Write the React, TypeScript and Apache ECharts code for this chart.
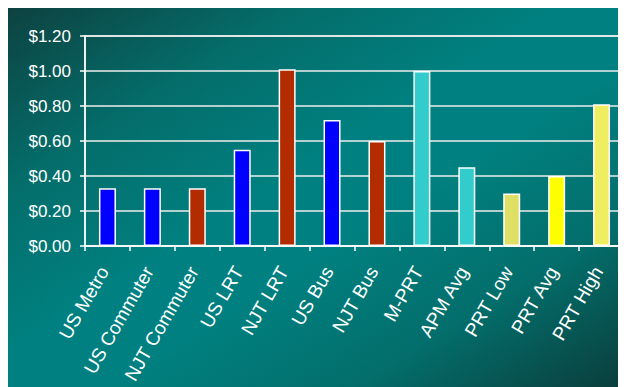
import React, { useEffect, useRef } from "react";
import * as echarts from "echarts";

// Cost per passenger-mile by mode
const categories = [
  "US Metro",
  "US Commuter",
  "NJT Commuter",
  "US LRT",
  "NJT LRT",
  "US Bus",
  "NJT Bus",
  "M-PRT",
  "APM Avg",
  "PRT Low",
  "PRT Avg",
  "PRT High",
];
const costs = [0.33, 0.33, 0.33, 0.55, 1.01, 0.72, 0.6, 1.0, 0.45, 0.3, 0.4, 0.81];
const barColors = [
  "#0000ff",
  "#0000ff",
  "#b22c00",
  "#0000ff",
  "#b22c00",
  "#0000ff",
  "#b22c00",
  "#33cccc",
  "#33cccc",
  "#dfdf66",
  "#ffff00",
  "#eeee60",
];
const yMin = 0;
const yMax = 1.2;
const yStep = 0.2;

export default function App() {
  const ref = useRef<HTMLDivElement>(null);

  useEffect(() => {
    if (!ref.current) return;
    const chart = echarts.init(ref.current, null, { renderer: "svg" });
    const font = "'Liberation Sans', Arial, sans-serif";
    chart.setOption({
      animation: false,
      backgroundColor: "transparent",
      grid: {
        left: 77,
        right: 2,
        top: 33,
        bottom: 141,
        show: true,
        borderColor: "#eeeeee",
        borderWidth: 1.5,
        backgroundColor: "transparent",
      },
      xAxis: {
        type: "category",
        data: categories,
        boundaryGap: true,
        axisLine: { show: true, lineStyle: { color: "#ffffff", width: 1.5 } },
        axisTick: { show: true, length: 5, lineStyle: { color: "#ffffff", width: 1.5 } },
        axisLabel: {
          interval: 0,
          rotate: 60,
          color: "#ffffff",
          fontSize: 19,
          fontFamily: font,
          margin: 16,
          padding: [0, 7, 0, 0],
        },
        splitLine: { show: false },
      },
      yAxis: {
        type: "value",
        min: yMin,
        max: yMax,
        interval: yStep,
        axisLine: { show: true, lineStyle: { color: "#ffffff", width: 1.5 } },
        axisTick: { show: true, length: 5, lineStyle: { color: "#ffffff", width: 1.5 } },
        axisLabel: {
          color: "#ffffff",
          fontSize: 17,
          fontFamily: font,
          margin: 14,
          formatter: (v: number) => "$" + v.toFixed(2),
        },
        splitLine: { show: true, lineStyle: { color: "#eeeeee", width: 1.5 } },
      },
      series: [
        {
          type: "bar",
          barWidth: 17,
          data: costs.map((v, i) => ({
            value: v,
            itemStyle: {
              color: barColors[i],
              borderColor: "#ffffff",
              borderWidth: 1.5,
            },
          })),
        },
      ],
    });
    return () => chart.dispose();
  }, []);

  return (
    <div
      ref={ref}
      style={{
        marginTop: -5,
        width: 618,
        height: 384,
        background:
          "linear-gradient(to bottom right, #0d413f 0%, #046d6a 24%, #008080 45%, #008080 58%, #036e6b 78%, #0a3d3b 100%)",
      }}
    />
  );
}
